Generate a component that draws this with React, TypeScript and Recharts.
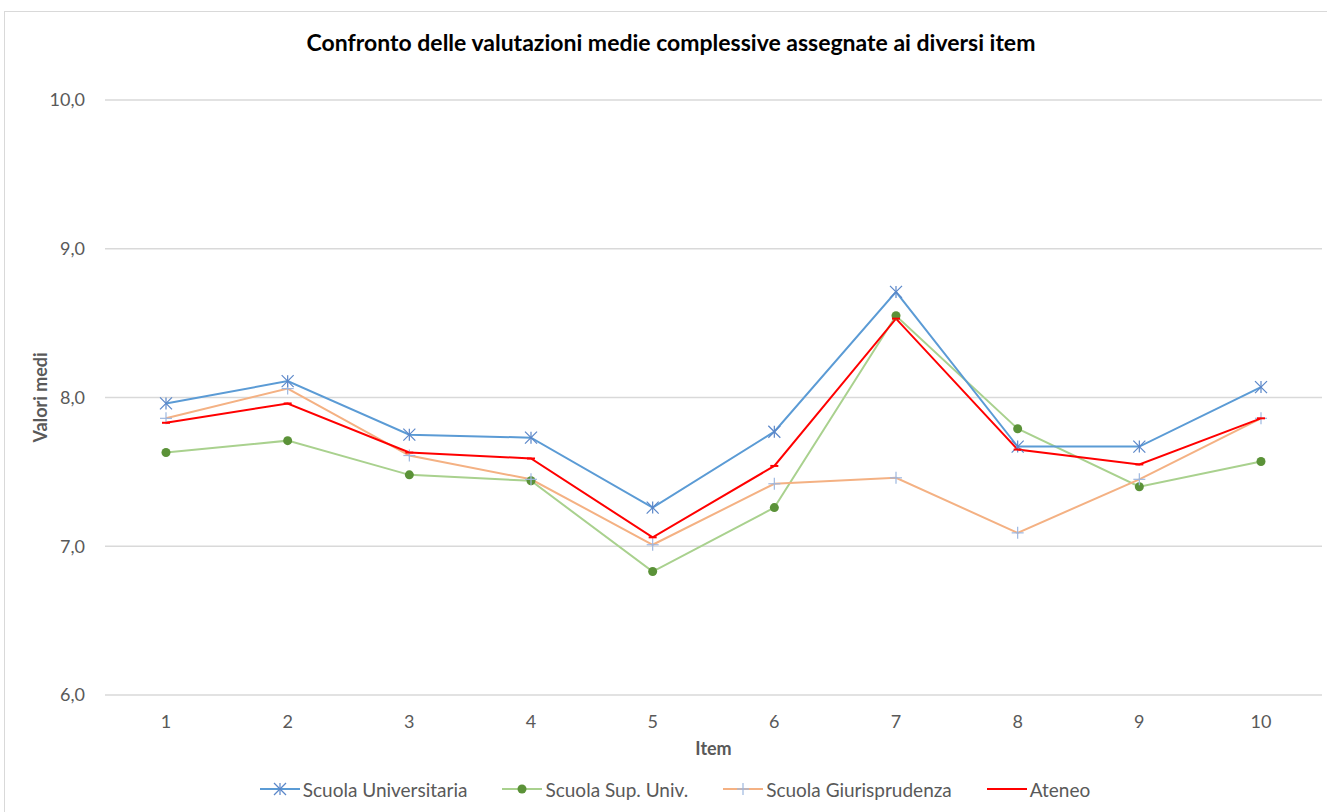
import React from "react";
import { LineChart, Line, XAxis, YAxis, CartesianGrid, Legend, Label } from "recharts";

const items = ["1", "2", "3", "4", "5", "6", "7", "8", "9", "10"];
const scuolaUniversitaria = [7.96, 8.11, 7.75, 7.73, 7.26, 7.77, 8.71, 7.67, 7.67, 8.07];
const scuolaSupUniv = [7.63, 7.71, 7.48, 7.44, 6.83, 7.26, 8.55, 7.79, 7.40, 7.57];
const scuolaGiurisprudenza = [7.86, 8.06, 7.61, 7.45, 7.01, 7.42, 7.46, 7.09, 7.45, 7.86];
const ateneo = [7.83, 7.96, 7.63, 7.59, 7.06, 7.54, 8.53, 7.65, 7.55, 7.86];
const yTicks = [6, 7, 8, 9, 10];

const data = items.map((item, i) => ({
  item,
  su: scuolaUniversitaria[i],
  ssu: scuolaSupUniv[i],
  sg: scuolaGiurisprudenza[i],
  at: ateneo[i],
}));

const FONT = "Lato, 'Open Sans', sans-serif";

const StarDot = (props: any) => {
  const { cx, cy } = props;
  if (cx == null || cy == null) return null;
  const r = 6;
  const c = "#5B87C9";
  return (
    <g stroke={c} strokeWidth={1.2}>
      <line x1={cx - r} y1={cy - r} x2={cx + r} y2={cy + r} />
      <line x1={cx - r} y1={cy + r} x2={cx + r} y2={cy - r} />
      <line x1={cx} y1={cy - r} x2={cx} y2={cy + r} />
    </g>
  );
};

const CircleDot = (props: any) => {
  const { cx, cy } = props;
  if (cx == null || cy == null) return null;
  return <circle cx={cx} cy={cy} r={4.5} fill="#5B9238" stroke="none" />;
};

const PlusDot = (props: any) => {
  const { cx, cy } = props;
  if (cx == null || cy == null) return null;
  const r = 6;
  const c = "#9DB7E0";
  return (
    <g stroke={c} strokeWidth={1.2}>
      <line x1={cx - r} y1={cy} x2={cx + r} y2={cy} />
      <line x1={cx} y1={cy - r} x2={cx} y2={cy + r} />
    </g>
  );
};

const DashDot = (props: any) => {
  const { cx, cy } = props;
  if (cx == null || cy == null) return null;
  return <line x1={cx - 4} y1={cy} x2={cx + 4} y2={cy} stroke="#FF0000" strokeWidth={2} />;
};

const legendItems = [
  { name: "Scuola Universitaria", color: "#5B9BD5", Marker: StarDot },
  { name: "Scuola Sup. Univ.", color: "#A9D18E", Marker: CircleDot },
  { name: "Scuola Giurisprudenza", color: "#F4B183", Marker: PlusDot },
  { name: "Ateneo", color: "#FF0000", Marker: DashDot },
];

const CustomLegend = () => (
  <div style={{ display: "flex", justifyContent: "center", gap: 35, paddingLeft: 28, fontFamily: FONT, fontSize: 19, color: "#595959", height: 24, alignItems: "center" }}>
    {legendItems.map(({ name, color, Marker }) => (
      <div key={name} style={{ display: "flex", alignItems: "center" }}>
        <svg width={40} height={16} style={{ marginRight: 3 }}>
          <line x1={0} y1={8} x2={40} y2={8} stroke={color} strokeWidth={2.2} />
          <Marker cx={20} cy={8} />
        </svg>
        <span>{name}</span>
      </div>
    ))}
  </div>
);

export default function App() {
  return (
    <div style={{ position: "absolute", left: 0, top: 0, width: 1327, height: 812, background: "#fff", overflow: "hidden" }}>
      <div style={{ position: "absolute", left: 4, top: 11, width: 1340, height: 820, borderLeft: "1px solid #d9d9d9", borderTop: "1px solid #d9d9d9" }} />
      <div style={{ position: "absolute", left: 0, top: 28, width: 1342, textAlign: "center", fontFamily: FONT, fontWeight: "bold", fontSize: 23, color: "#000" }}>
        Confronto delle valutazioni medie complessive assegnate ai diversi item
      </div>
      <div style={{ position: "absolute", left: 0, top: 0 }}>
        <LineChart width={1327} height={812} data={data} margin={{ top: 100, right: 5, left: 0, bottom: 11 }}>
          <CartesianGrid vertical={false} stroke="#d9d9d9" strokeWidth={1.3} />
          <XAxis
            dataKey="item"
            height={82}
            axisLine={false}
            tickLine={false}
            tickMargin={14}
            padding={{ left: 61, right: 61 }}
            tick={{ fill: "#595959", fontSize: 18, fontFamily: FONT }}
          >
            <Label value="Item" position="insideTop" offset={47} style={{ fill: "#595959", fontSize: 18, fontWeight: "bold", fontFamily: FONT }} />
          </XAxis>
          <YAxis
            width={105}
            domain={[6, 10]}
            ticks={yTicks}
            axisLine={false}
            tickLine={false}
            tickMargin={14}
            tickFormatter={(v: number) => v.toFixed(1).replace(".", ",")}
            tick={{ fill: "#595959", fontSize: 18, fontFamily: FONT }}
          >
            <Label value="Valori medi" angle={-90} position="insideLeft" offset={41} style={{ fill: "#595959", fontSize: 18, fontWeight: "bold", fontFamily: FONT, textAnchor: "middle" }} />
          </YAxis>
          <Legend verticalAlign="bottom" content={() => <CustomLegend />} />
          <Line dataKey="ssu" name="Scuola Sup. Univ." stroke="#A9D18E" strokeWidth={2} dot={<CircleDot />} activeDot={false} isAnimationActive={false} />
          <Line dataKey="sg" name="Scuola Giurisprudenza" stroke="#F4B183" strokeWidth={2} dot={<PlusDot />} activeDot={false} isAnimationActive={false} />
          <Line dataKey="su" name="Scuola Universitaria" stroke="#5B9BD5" strokeWidth={2} dot={<StarDot />} activeDot={false} isAnimationActive={false} />
          <Line dataKey="at" name="Ateneo" stroke="#FF0000" strokeWidth={2} dot={<DashDot />} activeDot={false} isAnimationActive={false} />
        </LineChart>
      </div>
    </div>
  );
}
